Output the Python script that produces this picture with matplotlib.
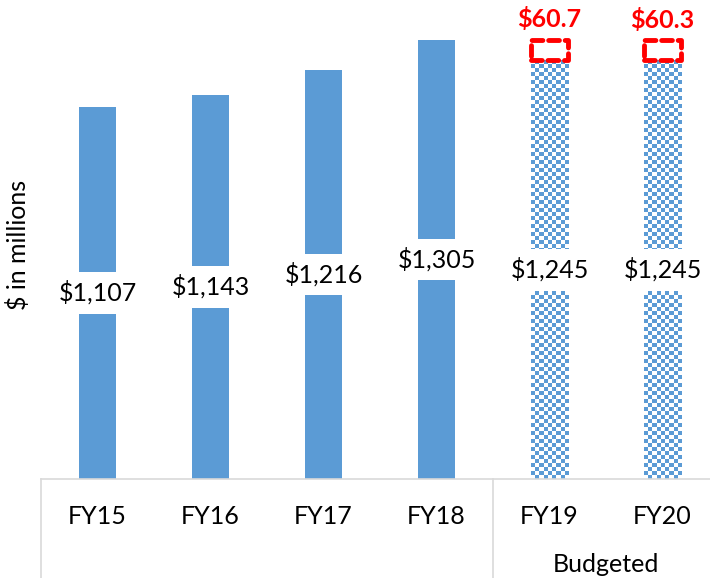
import matplotlib
matplotlib.use("Agg")
import matplotlib.pyplot as plt
import numpy as np
from matplotlib.colors import ListedColormap
from matplotlib.transforms import blended_transform_factory

plt.rcParams['font.family'] = ['Lato', 'DejaVu Sans']

# data
years = ['FY15', 'FY16', 'FY17', 'FY18', 'FY19', 'FY20']
base = [1107, 1143, 1216, 1305, 1245, 1245]
budgeted = [False, False, False, False, True, True]
extra = [0, 0, 0, 0, 60.7, 60.3]
group_label = 'Budgeted'

blue = '#5B9BD5'
grid_grey = '#D9D9D9'

fig = plt.figure(figsize=(7.10, 5.78), dpi=100)
ax = fig.add_axes([41 / 710, 99 / 578, 669 / 710, 479 / 578])
ax.set_xlim(-0.5, 5.42)
ax.set_ylim(0, 1424)

x = np.arange(len(years))
w = 0.33
solid_col = [blue if not b else 'none' for b in budgeted]
bars = ax.bar(x, base, width=w, color=solid_col, edgecolor='none', zorder=2)

# checker pattern for budgeted years
checker_cmap = ListedColormap(['white', blue])
fig.canvas.draw()
for rect, b in zip(bars, budgeted):
    if not b:
        continue
    x0, y0 = rect.get_x(), rect.get_y()
    x1, y1 = x0 + rect.get_width(), y0 + rect.get_height()
    p0 = ax.transData.transform((x0, y0))
    p1 = ax.transData.transform((x1, y1))
    cell = 4.0
    ncol = max(1, int(round((p1[0] - p0[0]) / cell)))
    nrow = max(1, int(round((p1[1] - p0[1]) / cell)))
    ii, jj = np.indices((nrow, ncol))
    pat = (ii + jj) % 2
    ax.imshow(pat, cmap=checker_cmap, extent=(x0, x1, y0, y1),
              interpolation='nearest', aspect='auto', zorder=2)

# dashed boxes for the budget add-on
for xi, b, add, bv in zip(x, budgeted, extra, base):
    if not b:
        continue
    box = ax.bar(xi, add, bottom=bv, width=w, fill=False, edgecolor='#FF0000',
                 linestyle=(0, (2.2, 1.2)), linewidth=3.5, zorder=3)
    box[0].set_joinstyle('round')
    box[0].set_capstyle('round')
    ax.annotate(f'${add:.1f}', (xi, bv + add), xytext=(0, 6),
                textcoords='offset points', ha='center', va='bottom',
                fontsize=18, fontweight='bold', color='#FF0000')

# value labels in the middle of each bar
for xi, v in zip(x, base):
    ax.text(xi, v / 2, f'${v:,}', ha='center', va='center', fontsize=18,
            color='black', zorder=4,
            bbox=dict(boxstyle='square,pad=0.35', fc='white', ec='none'))

ax.set_yticks([])
ax.set_xticks([])
for s in ['top', 'right', 'left']:
    ax.spines[s].set_visible(False)
ax.spines['bottom'].set_color(grid_grey)
ax.spines['bottom'].set_linewidth(1.2)

fig.text(18 / 710, 1 - 245 / 578, '$ in millions', rotation=90,
         ha='center', va='center', fontsize=18)

# multi-level category axis
tr = blended_transform_factory(ax.transData, ax.transAxes)
for xi, lab in zip(x, years):
    ax.text(xi, -38 / 479, lab, transform=tr, ha='center', va='center',
            fontsize=18)
gx = [i for i, b in enumerate(budgeted) if b]
ax.text(np.mean(gx), -86 / 479, group_label, transform=tr, ha='center',
        va='center', fontsize=18)
for sx in [-0.5, gx[0] - 0.5]:
    ax.plot([sx, sx], [0, -100 / 479], transform=tr, color=grid_grey,
            linewidth=1.2, clip_on=False)

fig.savefig('out.png', dpi=100)
